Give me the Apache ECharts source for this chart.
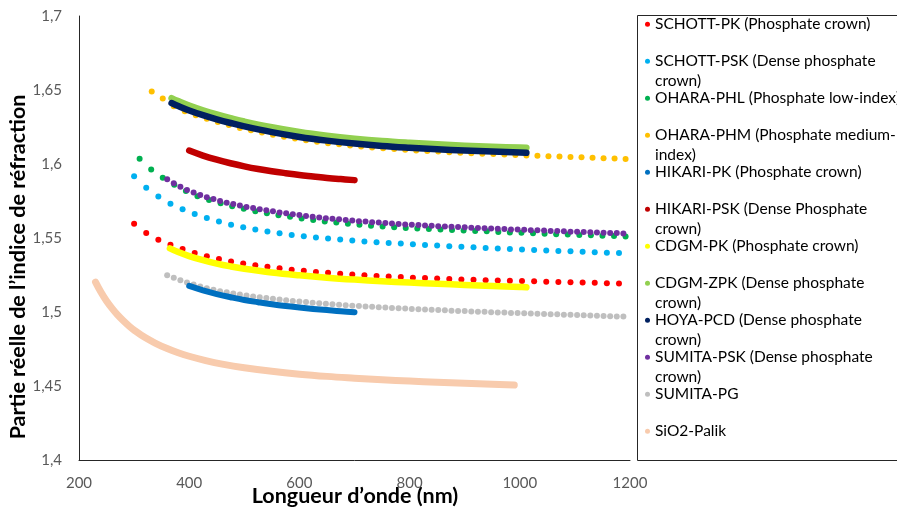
<!DOCTYPE html>
<html>
<head>
<meta charset="utf-8">
<script src="https://cdn.jsdelivr.net/npm/echarts@6/dist/echarts.min.js"></script>
<style>
html,body{margin:0;padding:0;background:#fff;overflow:hidden;}
#chart{width:897px;height:508px;}
</style>
</head>
<body>
<div id="chart"></div>
<script>
// ---------- DATA ----------
const xTickLabels = ['200','400','600','800','1000','1200'];
const yTickLabels = ['1,4','1,45','1,5','1,55','1,6','1,65','1,7'];

const seriesNames = [
  'SCHOTT-PK (Phosphate crown)',
  'SCHOTT-PSK (Dense phosphate crown)',
  'OHARA-PHL (Phosphate low-index)',
  'OHARA-PHM (Phosphate medium-index)',
  'HIKARI-PK (Phosphate crown)',
  'HIKARI-PSK (Dense Phosphate crown)',
  'CDGM-PK (Phosphate crown)',
  'CDGM-ZPK (Dense phosphate crown)',
  'HOYA-PCD (Dense phosphate crown)',
  'SUMITA-PSK (Dense phosphate crown)',
  'SUMITA-PG',
  'SiO2-Palik'
];
const legendLines = [
  ['SCHOTT-PK (Phosphate crown)', ''],
  ['SCHOTT-PSK (Dense phosphate', 'crown)'],
  ['OHARA-PHL (Phosphate low-index)', ''],
  ['OHARA-PHM (Phosphate medium-', 'index)'],
  ['HIKARI-PK (Phosphate crown)', ''],
  ['HIKARI-PSK (Dense Phosphate', 'crown)'],
  ['CDGM-PK (Phosphate crown)', ''],
  ['CDGM-ZPK (Dense phosphate', 'crown)'],
  ['HOYA-PCD (Dense phosphate', 'crown)'],
  ['SUMITA-PSK (Dense phosphate', 'crown)'],
  ['SUMITA-PG', ''],
  ['SiO2-Palik', '']
];

// SCHOTT-PK and SCHOTT-PSK wavelengths (nm)
const schottNm = [300,322,344,366,388,410,432,454,476,498,520,542,564,586,608,630,652,674,696,718,740,762,784,806,828,850,872,894,916,938,960,982,1004,1026,1048,1070,1092,1114,1136,1158,1180];
const schottPkN = [1.5597,1.5534,1.5489,1.5454,1.5425,1.5399,1.5377,1.5358,1.5342,1.5328,1.5316,1.5305,1.5295,1.5286,1.5278,1.5271,1.5265,1.5259,1.5253,1.5248,1.5244,1.5240,1.5236,1.5232,1.5229,1.5226,1.5223,1.5220,1.5218,1.5215,1.5213,1.5211,1.5209,1.5207,1.5205,1.5203,1.5201,1.5199,1.5197,1.5195,1.5193];
const schottPskN = [1.5917,1.5840,1.5780,1.5732,1.5694,1.5662,1.5635,1.5611,1.5590,1.5573,1.5557,1.5544,1.5532,1.5521,1.5512,1.5504,1.5497,1.5490,1.5483,1.5477,1.5472,1.5467,1.5462,1.5457,1.5453,1.5449,1.5445,1.5441,1.5437,1.5433,1.5429,1.5426,1.5423,1.5419,1.5416,1.5413,1.5410,1.5407,1.5404,1.5401,1.5399];

// OHARA-PHL
const oharaPhlNm = [310,331,352,373,394,415,436,457,478,499,520,541,562,583,604,625,646,667,688,709,730,751,772,793,814,835,856,877,898,919,940,961,982,1003,1024,1045,1066,1087,1108,1129,1150,1171,1192];
const oharaPhlN = [1.6035,1.5963,1.5907,1.5860,1.5817,1.5782,1.5757,1.5734,1.5714,1.5697,1.5681,1.5667,1.5654,1.5643,1.5632,1.5622,1.5612,1.5604,1.5597,1.5590,1.5583,1.5578,1.5573,1.5568,1.5564,1.5560,1.5557,1.5554,1.5551,1.5548,1.5545,1.5541,1.5538,1.5535,1.5532,1.5529,1.5526,1.5523,1.5521,1.5519,1.5516,1.5513,1.5510];

// OHARA-PHM
const oharaPhmNm = [332,352,372,392,412,432,452,472,492,512,532,552,572,592,612,632,652,672,692,712,732,752,772,792,812,832,852,872,892,912,932,952,972,992,1012,1032,1052,1072,1092,1112,1132,1152,1172,1192];
const oharaPhmN = [1.6490,1.6442,1.6390,1.6357,1.6329,1.6305,1.6283,1.6263,1.6244,1.6228,1.6212,1.6197,1.6184,1.6172,1.6160,1.6150,1.6141,1.6133,1.6125,1.6118,1.6112,1.6106,1.6101,1.6096,1.6092,1.6088,1.6084,1.6080,1.6076,1.6073,1.6070,1.6067,1.6064,1.6061,1.6058,1.6055,1.6053,1.6050,1.6047,1.6045,1.6042,1.6039,1.6037,1.6033];

// HIKARI-PK and HIKARI-PSK
const hikariNm = [400,425,450,475,500,525,550,575,600,625,650,675,700];
const hikariPkN = [1.5176,1.5146,1.5121,1.5100,1.5081,1.5066,1.5052,1.5040,1.5030,1.5021,1.5013,1.5005,1.4999];
const hikariPskN = [1.6091,1.6057,1.6029,1.6005,1.5984,1.5966,1.5951,1.5938,1.5926,1.5916,1.5906,1.5898,1.5891];

// CDGM-PK
const cdgmPkNm = [365,380,400,425,450,475,500,550,600,650,700,750,800,850,900,950,1000,1012];
const cdgmPkN = [1.5430,1.5405,1.5378,1.5350,1.5327,1.5308,1.5292,1.5267,1.5248,1.5232,1.5219,1.5208,1.5199,1.5191,1.5183,1.5176,1.5169,1.5167];

// CDGM-ZPK and HOYA-PCD
const denseNm = [368,380,400,425,450,475,500,550,600,650,700,750,800,850,900,950,1000,1012];
const cdgmZpkN = [1.6445,1.6425,1.6395,1.6363,1.6335,1.6310,1.6287,1.6248,1.6216,1.6191,1.6171,1.6155,1.6143,1.6133,1.6124,1.6117,1.6111,1.6109];
const hoyaPcdN = [1.6412,1.6392,1.6362,1.6330,1.6302,1.6277,1.6254,1.6215,1.6183,1.6158,1.6138,1.6122,1.6110,1.6100,1.6091,1.6084,1.6078,1.6076];

// SUMITA-PSK and SUMITA-PG
const sumitaNm = [360,372,384,396,408,420,432,444,456,468,480,492,504,516,528,540,552,564,576,588,600,612,624,636,648,660,672,684,696,708,720,732,744,756,768,780,792,804,816,828,840,852,864,876,888,900,912,924,936,948,960,972,984,996,1008,1020,1032,1044,1056,1068,1080,1092,1104,1116,1128,1140,1152,1164,1176,1188];
const sumitaPskN = [1.5897,1.5870,1.5846,1.5825,1.5807,1.5791,1.5776,1.5763,1.5750,1.5739,1.5729,1.5719,1.5710,1.5702,1.5694,1.5687,1.5680,1.5673,1.5667,1.5661,1.5655,1.5649,1.5644,1.5639,1.5634,1.5630,1.5626,1.5622,1.5618,1.5614,1.5611,1.5607,1.5604,1.5601,1.5598,1.5595,1.5592,1.5590,1.5587,1.5585,1.5582,1.5580,1.5578,1.5576,1.5574,1.5572,1.5570,1.5568,1.5566,1.5564,1.5562,1.5560,1.5558,1.5557,1.5555,1.5553,1.5552,1.5550,1.5548,1.5547,1.5545,1.5543,1.5542,1.5540,1.5539,1.5537,1.5536,1.5534,1.5533,1.5531];
const sumitaPgN = [1.5249,1.5231,1.5214,1.5199,1.5185,1.5172,1.5160,1.5150,1.5141,1.5133,1.5125,1.5118,1.5111,1.5105,1.5099,1.5094,1.5089,1.5084,1.5079,1.5075,1.5071,1.5067,1.5063,1.5059,1.5056,1.5052,1.5049,1.5046,1.5043,1.5040,1.5037,1.5035,1.5032,1.5030,1.5027,1.5025,1.5023,1.5021,1.5019,1.5017,1.5015,1.5013,1.5011,1.5009,1.5007,1.5006,1.5004,1.5002,1.5001,1.4999,1.4997,1.4996,1.4994,1.4993,1.4991,1.4990,1.4988,1.4987,1.4985,1.4984,1.4982,1.4981,1.4979,1.4978,1.4976,1.4975,1.4973,1.4972,1.4970,1.4969];

// SiO2-Palik
const sio2Nm = [230,240,250,260,270,280,290,300,320,340,360,380,400,430,460,500,550,600,650,700,750,800,850,900,950,990];
const sio2N = [1.5202,1.5133,1.5074,1.5024,1.4980,1.4942,1.4908,1.4878,1.4827,1.4787,1.4753,1.4725,1.4701,1.4672,1.4648,1.4623,1.4599,1.4580,1.4565,1.4553,1.4542,1.4533,1.4525,1.4518,1.4511,1.4506];

// ---------- CHART ----------
const colors = ['#FF0000','#00B0F0','#00B050','#FFC000','#0070C0','#C00000','#FFFF00','#92D050','#002060','#7030A0','#BFBFBF','#F8CBAD'];
const FONT = 'Lato, "Open Sans", sans-serif';

function pairs(xs, ys){ return xs.map((x,i)=>[x, ys[i]]); }

function scatter(idx, xs, ys){
  return {
    name: seriesNames[idx], type: 'scatter', data: pairs(xs, ys),
    symbol: 'circle', symbolSize: 6,
    itemStyle: { color: colors[idx], opacity: 1 },
    emphasis: { disabled: true }, silent: true
  };
}
function dense(idx, xs, ys, w){
  return {
    name: seriesNames[idx], type: 'line', data: pairs(xs, ys),
    symbol: 'none', showSymbol: false, smooth: 0.4,
    itemStyle: { color: colors[idx] },
    lineStyle: { color: colors[idx], width: w, cap: 'round', join: 'round' },
    emphasis: { disabled: true }, silent: true
  };
}

const series = [
  scatter(0, schottNm, schottPkN),
  scatter(1, schottNm, schottPskN),
  scatter(2, oharaPhlNm, oharaPhlN),
  scatter(3, oharaPhmNm, oharaPhmN),
  dense(4, hikariNm, hikariPkN, 6),
  dense(5, hikariNm, hikariPskN, 6.5),
  dense(6, cdgmPkNm, cdgmPkN, 6.5),
  dense(7, denseNm, cdgmZpkN, 6.5),
  dense(8, denseNm, hoyaPcdN, 6.5),
  scatter(9, sumitaNm, sumitaPskN),
  scatter(10, sumitaNm, sumitaPgN),
  dense(11, sio2Nm, sio2N, 7)
];

const boxStroke = { stroke: '#262626', lineWidth: 1 };

const chart = echarts.init(document.getElementById('chart'), null, { renderer: 'canvas' });
chart.setOption({
  animation: false,
  backgroundColor: '#ffffff',
  grid: { left: 79, top: 16, right: 267, bottom: 48, containLabel: false },
  xAxis: {
    type: 'value', min: 200, max: 1200, interval: 200,
    axisLine: { show: true, lineStyle: { color: '#262626', width: 1 } },
    axisTick: { show: false },
    splitLine: { show: false },
    axisLabel: {
      margin: 16, color: '#595959', fontSize: 15, fontFamily: FONT,
      formatter: v => xTickLabels[Math.round((v - 200) / 200)]
    }
  },
  yAxis: {
    type: 'value', min: 1.4, max: 1.7, interval: 0.05,
    axisLine: { show: true, lineStyle: { color: '#262626', width: 1 } },
    axisTick: { show: false },
    splitLine: { show: false },
    axisLabel: {
      margin: 17, color: '#595959', fontSize: 15, fontFamily: FONT,
      formatter: v => yTickLabels[Math.round((v - 1.4) / 0.05)]
    }
  },
  legend: {
    orient: 'vertical', left: 645, top: -5, padding: 0,
    itemWidth: 5, itemHeight: 5, itemGap: -21.5, icon: 'circle',
    selectedMode: false,
    data: seriesNames.map(n => ({ name: n, icon: 'circle' })),
    textStyle: { color: '#000000', fontSize: 15.5, fontFamily: FONT, lineHeight: 19.5 },
    formatter: name => {
      const l = legendLines[seriesNames.indexOf(name)];
      return '\u00a0\n' + l[0] + '\n' + (l[1] || '\u00a0');
    }
  },
  graphic: [
    { type: 'line', silent: true, shape: { x1: 637.5, y1: 15.5, x2: 897, y2: 15.5 }, style: boxStroke },
    { type: 'line', silent: true, shape: { x1: 637.5, y1: 15.5, x2: 637.5, y2: 460.5 }, style: boxStroke },
    { type: 'line', silent: true, shape: { x1: 637.5, y1: 460.5, x2: 897, y2: 460.5 }, style: boxStroke },
    { type: 'text', silent: true, x: 18, y: 267, rotation: Math.PI / 2,
      style: { text: 'Partie réelle de l’indice de réfraction', align: 'center', verticalAlign: 'middle',
               font: 'bold 21.5px ' + FONT, fill: '#000000' } },
    { type: 'text', silent: true, x: 355, y: 496,
      style: { text: 'Longueur d’onde (nm)', align: 'center', verticalAlign: 'middle',
               font: 'bold 21.5px ' + FONT, fill: '#000000' } }
  ],
  series: series
});
</script>
</body>
</html>
